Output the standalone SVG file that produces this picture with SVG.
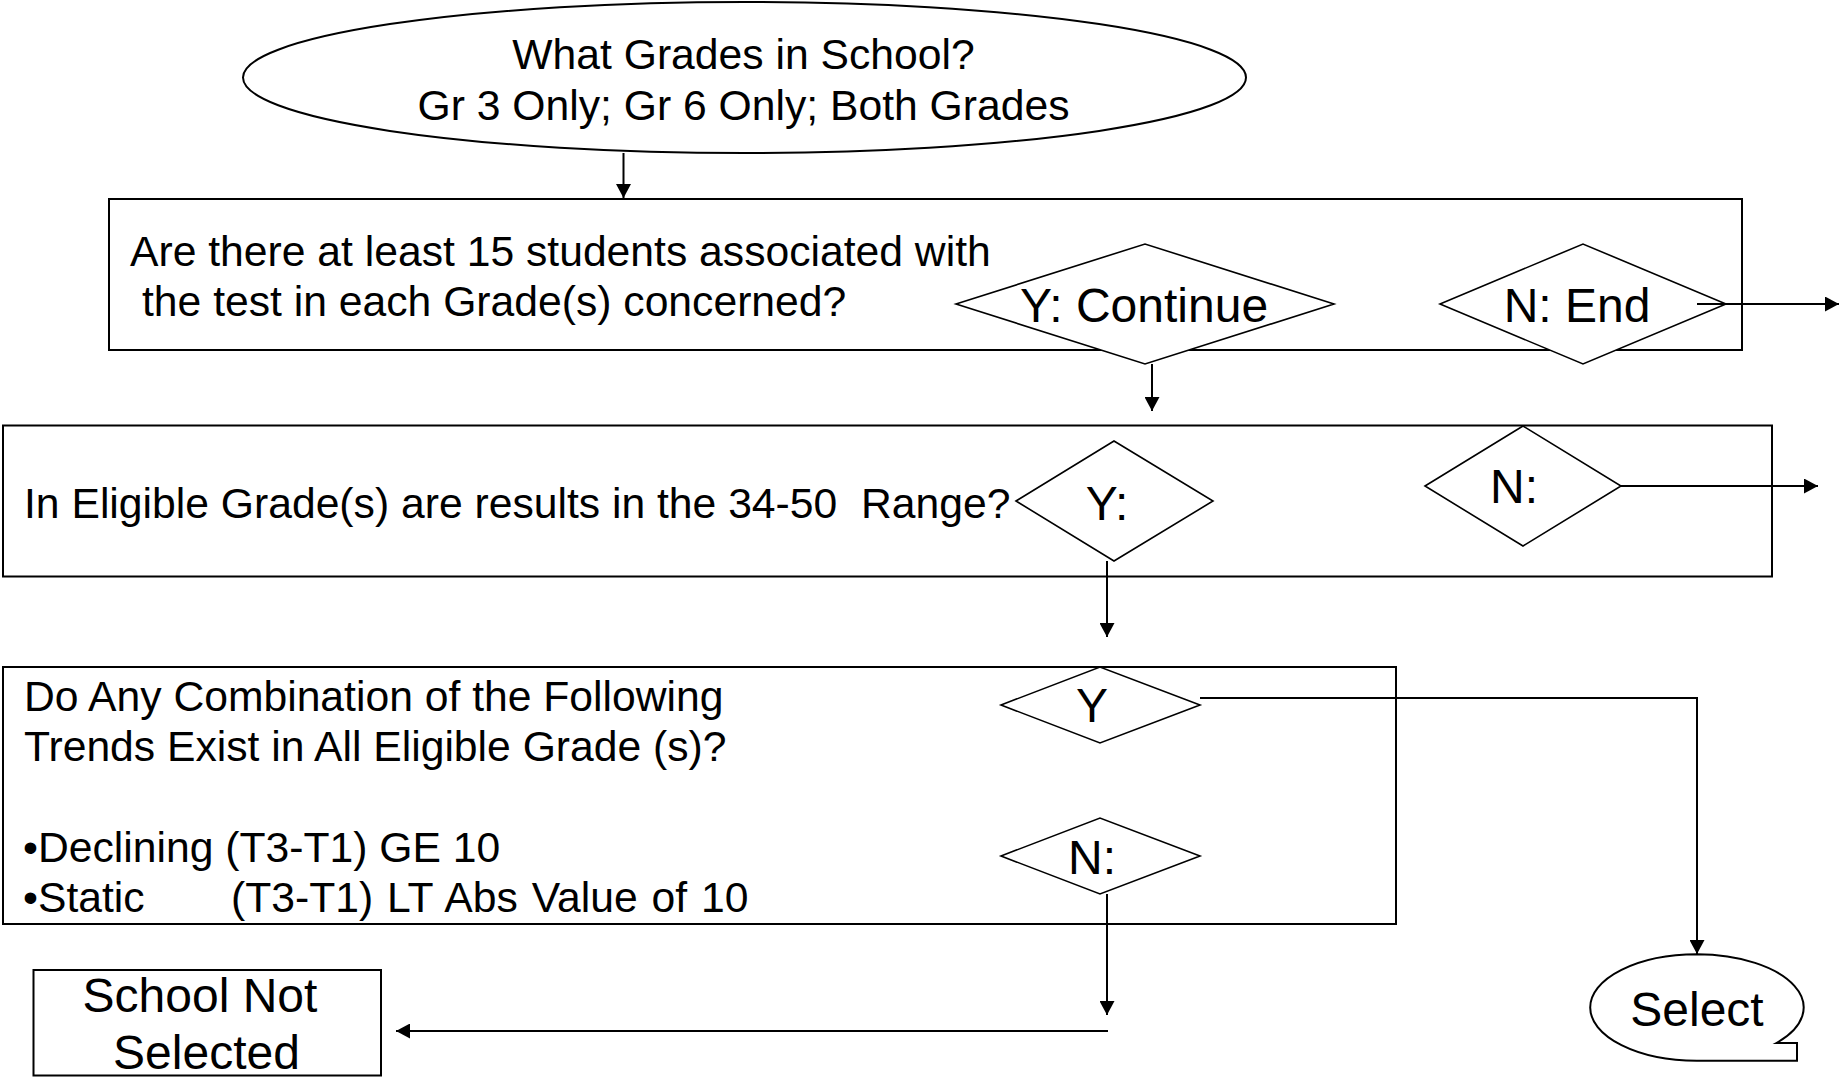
<svg xmlns="http://www.w3.org/2000/svg" width="1839" height="1077" viewBox="0 0 1839 1077">
<style>
.shape{fill:#fff;stroke:#000;stroke-width:2}
.dia{fill:#fff;stroke:#000;stroke-width:1.6}
.t{font-family:"Liberation Sans",Arial,sans-serif;font-size:42.67px;fill:#000}
.tl{font-family:"Liberation Sans",Arial,sans-serif;font-size:48px;fill:#000}
.mid{text-anchor:middle}
.conn{fill:none;stroke:#000;stroke-width:2}
</style>
<defs>
<marker id="ah" markerUnits="userSpaceOnUse" markerWidth="14" markerHeight="15" refX="14" refY="7.5" orient="auto">
<path d="M0,0 L14,7.5 L0,15 Z" fill="#000"/>
</marker>
</defs>
<rect width="1839" height="1077" fill="#fff"/>

<g id="start">
<ellipse class="shape" cx="744.5" cy="77.5" rx="501.5" ry="75.5"/>
<text class="t mid" x="743.5" y="69">What Grades in School?</text>
<text class="t mid" x="743.5" y="120">Gr 3 Only; Gr 6 Only; Both Grades</text>
</g>

<g id="box1">
<rect class="shape" x="109" y="199" width="1633" height="151"/>
<text class="t" x="130" y="266">Are there at least 15 students associated with</text>
<text class="t" x="142" y="316">the test in each Grade(s) concerned?</text>
</g>
<g id="d1y">
<polygon class="dia" points="956,304 1145,244 1334,304 1145,364"/>
<text class="tl mid" x="1144" y="322">Y: Continue</text>
</g>
<g id="d1n">
<polygon class="dia" points="1440,304 1583,244 1726,304 1583,364"/>
<text class="tl mid" x="1577" y="322">N: End</text>
</g>

<g id="box2">
<rect class="shape" x="3" y="425.5" width="1769" height="151"/>
<text class="t" x="24" y="518" xml:space="preserve">In Eligible Grade(s) are results in the 34-50  Range?</text>
</g>
<g id="d2y">
<polygon class="dia" points="1016,501 1114,441 1213,501 1114,561"/>
<text class="tl mid" x="1107" y="520">Y:</text>
</g>
<g id="d2n">
<polygon class="dia" points="1425,486 1523,426 1621,486 1523,546"/>
<text class="tl mid" x="1514" y="503">N:</text>
</g>

<g id="box3">
<rect class="shape" x="3" y="667" width="1393" height="257"/>
<text class="t" x="24" y="711">Do Any Combination of the Following</text>
<text class="t" x="24" y="761">Trends Exist in All Eligible Grade (s)?</text>
<text class="t" x="23" y="862">•Declining (T3-T1) GE 10</text>
<text class="t" x="23" y="912">•Static<tspan x="231" word-spacing="2">(T3-T1) LT Abs Value of 10</tspan></text>
</g>
<g id="d3y">
<polygon class="dia" points="1001,705 1100,667 1200,705 1100,743"/>
<text class="tl mid" x="1092" y="722">Y</text>
</g>
<g id="d3n">
<polygon class="dia" points="1001,856 1100,818 1200,856 1100,894"/>
<text class="tl mid" x="1092" y="874">N:</text>
</g>

<g id="notselected">
<rect class="shape" x="33.5" y="970" width="347.5" height="105.5"/>
<text class="tl mid" x="200" y="1012">School Not</text>
<text class="tl mid" x="206.5" y="1069">Selected</text>
</g>

<g id="select">
<path class="shape" d="M1697,954.3 A106.8,53.2 0 0 1 1776.4,1043 L1797,1043 L1797,1060.7 L1697,1060.7 A106.8,53.2 0 0 1 1590.2,1007.5 A106.8,53.2 0 0 1 1697,954.3 Z"/>
<text class="tl mid" x="1697" y="1026">Select</text>
</g>

<g id="connectors">
<line class="conn" x1="623.5" y1="153" x2="623.5" y2="198" marker-end="url(#ah)"/>
<line class="conn" x1="1697" y1="304" x2="1839" y2="304" marker-end="url(#ah)"/>
<line class="conn" x1="1152" y1="364" x2="1152" y2="411" marker-end="url(#ah)"/>
<line class="conn" x1="1621" y1="486" x2="1818" y2="486" marker-end="url(#ah)"/>
<line class="conn" x1="1107" y1="561" x2="1107" y2="637" marker-end="url(#ah)"/>
<polyline class="conn" points="1200,698 1697,698 1697,954" marker-end="url(#ah)"/>
<line class="conn" x1="1107" y1="894" x2="1107" y2="1015" marker-end="url(#ah)"/>
<line class="conn" x1="1108" y1="1031" x2="396" y2="1031" marker-end="url(#ah)"/>
</g>
</svg>
